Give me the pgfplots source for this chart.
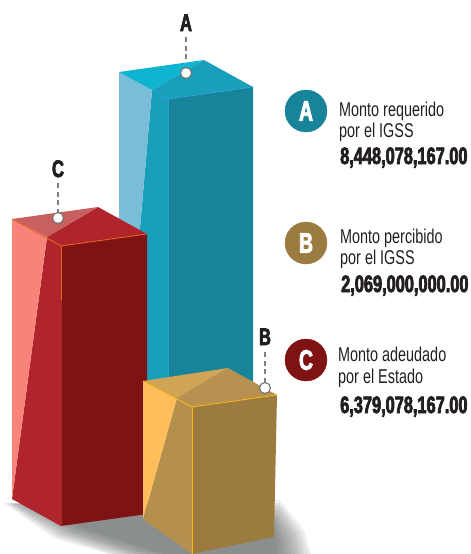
\documentclass[border=0pt]{standalone}
\usepackage{fontspec}
\usepackage{pgfplots}
\pgfplotsset{compat=1.18}
\setmainfont{Liberation Sans}
\newfontfamily\lab[FakeStretch=0.72]{Liberation Sans}
\newfontfamily\heavy[FakeStretch=0.69,FakeBold=3]{Liberation Sans}

\definecolor{aTopL}{HTML}{0FB4D0}
\definecolor{aMid}{HTML}{1A9FBB}
\definecolor{aSide}{HTML}{7ABDD8}
\definecolor{aFront}{HTML}{17849A}
\definecolor{aEdge}{HTML}{2A9FD8}
\definecolor{cTopL}{HTML}{C86060}
\definecolor{cMid}{HTML}{B0252C}
\definecolor{cSide}{HTML}{F8837A}
\definecolor{cFront}{HTML}{7F1213}
\definecolor{cEdge}{HTML}{E8651A}
\definecolor{bTopL}{HTML}{D2A455}
\definecolor{bTop}{HTML}{B79150}
\definecolor{bMid}{HTML}{B58F4C}
\definecolor{bSide}{HTML}{FFBD5C}
\definecolor{bFront}{HTML}{9C7B41}
\definecolor{bEdge}{HTML}{FDB515}
\definecolor{shade}{HTML}{5F6364}
\definecolor{txt}{HTML}{231F20}

\pgfplotsset{
  face/.style={fill=#1,draw=none,no markers},
  blur/.style={fill=shade,draw=none,no markers,fill opacity=0.1},
  edge/.style={draw=#1,line width=0.8pt,no markers},
  leader/.style={draw=gray,line width=1.4pt,dash pattern=on 5pt off 3.5pt,no markers},
  disc/.style={only marks,mark=*,mark size=21pt,mark options={fill=#1,draw=#1}},
  discletter/.style={nodes near coords={\letter{28}#1},
    every node near coord/.style={anchor=center,text=white,inner sep=0pt}},
}
\newcommand{\lbl}{\lab\fontsize{20}{20}\selectfont}
\newcommand{\money}{\heavy\bfseries\fontsize{23.7}{23.7}\selectfont}
\newcommand{\letter}[1]{\heavy\bfseries\fontsize{#1}{#1}\selectfont}

\begin{document}
\begin{tikzpicture}
\useasboundingbox (0,0) rectangle (471pt,554pt);
\begin{axis}[
  scale only axis,
  width=471pt,
  height=554pt,
  xmin=0,xmax=471,
  ymin=0,ymax=554,
  y dir=reverse,
  hide axis,
]
% floor shadow, stacked thin layers
\addplot[blur] coordinates {(4,503) (54,538) (122,558) (312,558) (304,530) (280,500) (143,503)} --cycle;
\addplot[blur] coordinates {(6,503) (57,537) (126,558) (309,558) (301,531) (279,503) (143,504)} --cycle;
\addplot[blur] coordinates {(9,503) (60,536) (131,558) (305,558) (299,533) (279,505) (143,505)} --cycle;
\addplot[blur] coordinates {(11,504) (62,535) (135,557) (302,558) (296,534) (278,508) (143,505)} --cycle;
\addplot[blur] coordinates {(13,504) (65,534) (139,557) (299,558) (294,535) (278,511) (143,506)} --cycle;
\addplot[blur] coordinates {(16,504) (68,533) (144,557) (296,558) (291,537) (277,514) (143,507)} --cycle;
\addplot[blur] coordinates {(18,504) (71,533) (148,557) (292,558) (289,538) (277,516) (143,508)} --cycle;
\addplot[blur] coordinates {(21,504) (74,532) (153,557) (289,558) (286,540) (276,519) (143,509)} --cycle;
\addplot[blur] coordinates {(23,504) (77,531) (157,557) (286,558) (284,541) (276,522) (143,510)} --cycle;
\addplot[blur] coordinates {(25,505) (79,530) (161,556) (283,558) (281,542) (275,525) (143,510)} --cycle;
\addplot[blur] coordinates {(28,505) (82,529) (166,556) (279,558) (279,544) (275,527) (143,511)} --cycle;
\addplot[blur] coordinates {(30,505) (85,528) (170,556) (276,558) (276,545) (274,530) (143,512)} --cycle;

% bar A
\addplot[face=aFront] coordinates {(168,99) (253,87) (253,395) (168,400)} --cycle;
\addplot[face=aMid] coordinates {(152,90) (168,99) (168,400) (125,400)} --cycle;
\addplot[face=aSide] coordinates {(119,72) (152,90) (125,400) (119,400)} --cycle;
\addplot[face=aMid] coordinates {(152,90) (204,60) (253,87) (168,99)} --cycle;
\addplot[face=aTopL] coordinates {(119,72) (204,60) (152,90)} --cycle;
\addplot[edge=aEdge] coordinates {(152,90) (168,99) (253,87)};
\addplot[edge=aEdge] coordinates {(168,99) (168,400)};

% bar C
\addplot[face=cFront] coordinates {(61,246) (147,234) (147,514) (61,526)} --cycle;
\addplot[face=cMid] coordinates {(47,237) (61,246) (61,526) (12,499)} --cycle;
\addplot[face=cSide] coordinates {(12,219) (47,237) (12,499)} --cycle;
\addplot[face=cMid] coordinates {(47,237) (98,207) (147,234) (61,246)} --cycle;
\addplot[face=cTopL] coordinates {(12,219) (98,207) (47,237)} --cycle;
\addplot[edge=cMid] coordinates {(61,300) (61,526)};
\addplot[edge=cEdge] coordinates {(12,219) (61,246) (147,234)};
\addplot[edge=cEdge] coordinates {(61,246) (61,300)};

% bar B
\addplot[face=bFront] coordinates {(192,407) (277,395) (274,537) (192,554)} --cycle;
\addplot[face=bMid] coordinates {(177,398) (192,407) (192,554) (143,519)} --cycle;
\addplot[face=bSide] coordinates {(143,381) (177,398) (143,519)} --cycle;
\addplot[face=bTop] coordinates {(177,398) (228,368) (277,395) (192,407)} --cycle;
\addplot[face=bTopL] coordinates {(143,381) (228,368) (177,398)} --cycle;
\addplot[edge=bEdge] coordinates {(143,381) (192,407) (277,395)};
\addplot[edge=bEdge] coordinates {(192,407) (192,554)};

% leaders and dots
\addplot[leader] coordinates {(186,37) (186,62)};
\addplot[leader] coordinates {(58,183) (58,212)};
\addplot[leader] coordinates {(265,352) (265,382)};
\addplot[only marks,mark=*,mark size=5.5pt,mark options={fill=white,draw=gray!90!black,line width=1.1pt}]
  coordinates {(186,73) (58,218) (265,388)};

% legend discs
\addplot[disc=aFront,discletter=A] coordinates {(306,111)};
\addplot[disc=bFront,discletter=B] coordinates {(306,243)};
\addplot[disc=cFront,discletter=C] coordinates {(306,360)};

% letters over the bars
\node[anchor=base,text=txt] at (axis cs:186,31) {\letter{24}A};
\node[anchor=base,text=txt] at (axis cs:58,177) {\letter{24}C};
\node[anchor=base,text=txt] at (axis cs:265,345) {\letter{24}B};

% legend text
\node[anchor=base west,inner sep=0pt,text=txt] at (axis cs:339,116) {\lbl Monto requerido};
\node[anchor=base west,inner sep=0pt,text=txt] at (axis cs:339,137) {\lbl por el IGSS};
\node[anchor=base west,inner sep=0pt,text=txt] at (axis cs:340,164) {\money 8,448,078,167.00};
\node[anchor=base west,inner sep=0pt,text=txt] at (axis cs:340,243) {\lbl Monto percibido};
\node[anchor=base west,inner sep=0pt,text=txt] at (axis cs:340,264) {\lbl por el IGSS};
\node[anchor=base west,inner sep=0pt,text=txt] at (axis cs:341,292) {\money 2,069,000,000.00};
\node[anchor=base west,inner sep=0pt,text=txt] at (axis cs:338,361) {\lbl Monto adeudado};
\node[anchor=base west,inner sep=0pt,text=txt] at (axis cs:338,383) {\lbl por el Estado};
\node[anchor=base west,inner sep=0pt,text=txt] at (axis cs:340,413) {\money 6,379,078,167.00};
\end{axis}
\end{tikzpicture}
\end{document}
